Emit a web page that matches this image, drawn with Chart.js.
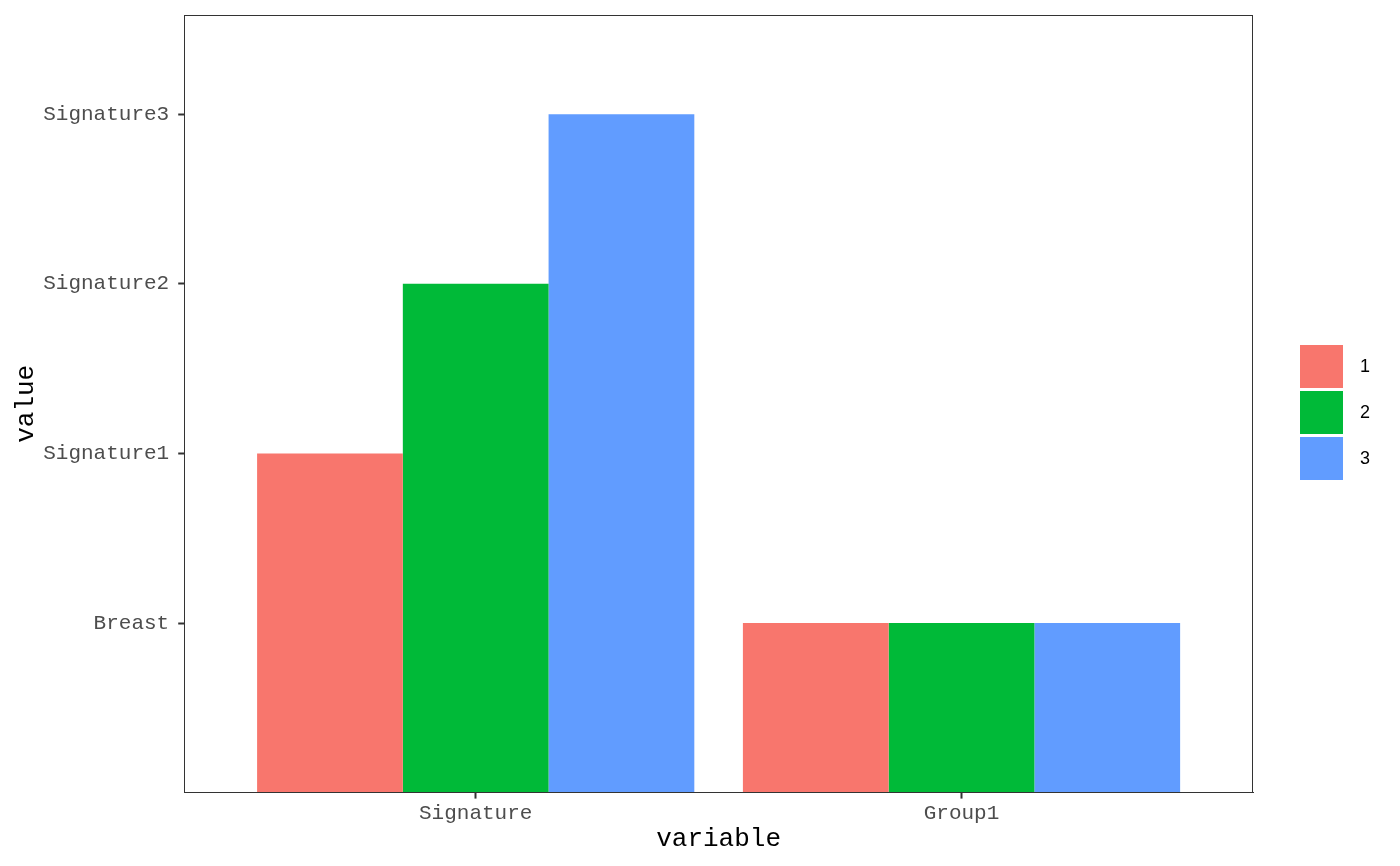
<!DOCTYPE html>
<html><head><meta charset="utf-8">
<script src="https://cdn.jsdelivr.net/npm/chart.js@4"></script>
<style>html,body{margin:0;padding:0;background:#fff}#wrap{width:1400px;height:866px;position:relative}</style>
</head><body><div id="wrap"><canvas id="c"></canvas></div>
<script>
const categories = ['Signature', 'Group1'];
const yLevels = ['Breast', 'Signature1', 'Signature2', 'Signature3'];
const seriesNames = ['1', '2', '3'];
const series1 = ['Signature1', 'Breast'];
const series2 = ['Signature2', 'Breast'];
const series3 = ['Signature3', 'Breast'];
const seriesColors = ['#F8766D', '#00BA38', '#619CFF'];

const allSeries = [series1, series2, series3];
const datasets = allSeries.map((s, i) => ({
  label: seriesNames[i],
  data: s.map((lvl, j) => ({ x: j + 1, y: yLevels.indexOf(lvl) + 1 })),
  backgroundColor: seriesColors[i],
  borderWidth: 0,
  categoryPercentage: 0.9,
  barPercentage: 1.0
}));

const panelBorder = {
  id: 'panelBorder',
  afterDraw(chart) {
    const a = chart.chartArea, ctx = chart.ctx;
    ctx.save();
    ctx.strokeStyle = '#333333';
    ctx.lineWidth = 1;
    ctx.strokeRect(Math.round(a.left) + 0.5, Math.round(a.top) + 0.5, Math.round(a.right - a.left) - 1, Math.round(a.bottom - a.top) - 1);
    ctx.restore();
  }
};

// ggplot-style legend to the right of the panel, built from the datasets
const sideLegend = {
  id: 'sideLegend',
  afterDraw(chart) {
    const a = chart.chartArea, ctx = chart.ctx;
    const ds = chart.data.datasets;
    const key = 43, gap = 3, step = key + gap;
    const total = ds.length * key + (ds.length - 1) * gap;
    const x0 = a.right + 47;
    let y0 = Math.round((a.top + a.bottom) / 2 - total / 2 + 9);
    ctx.save();
    ctx.font = "18px 'Liberation Sans', Arial, sans-serif";
    ctx.textBaseline = 'middle';
    ctx.textAlign = 'left';
    ds.forEach((d, i) => {
      const y = y0 + i * step;
      ctx.fillStyle = d.backgroundColor;
      ctx.fillRect(x0, y, key, key);
      ctx.fillStyle = '#000000';
      ctx.fillText(d.label, x0 + key + 17, y + key / 2 + 1);
    });
    ctx.restore();
  }
};

const mono = "'Liberation Mono', 'Courier New', monospace";
new Chart(document.getElementById('c'), {
  type: 'bar',
  data: { datasets },
  plugins: [panelBorder, sideLegend],
  options: {
    responsive: true,
    maintainAspectRatio: false,
    animation: false,
    layout: { padding: { left: 3, right: 147, top: 15, bottom: 11 } },
    plugins: {
      tooltip: { enabled: false },
      legend: { display: false }
    },
    scales: {
      x: {
        type: 'linear', min: 0.4, max: 2.6, offset: false,
        afterBuildTicks: s => { s.ticks = categories.map((c, i) => ({ value: i + 1 })); },
        afterFit: s => { s.paddingLeft = 0; s.paddingRight = 0; },
        ticks: { callback: v => categories[v - 1], color: '#4D4D4D', font: { family: mono, size: 21 }, padding: 2, maxRotation: 0, autoSkip: false },
        grid: { drawOnChartArea: false, offset: false, tickLength: 6, color: '#333333', tickWidth: 2 },
        border: { color: '#333333' },
        title: { display: true, text: 'variable', color: '#000', font: { family: mono, size: 26 }, padding: { top: -4, bottom: 0 } }
      },
      y: {
        type: 'linear', min: 0, max: 4.585,
        afterBuildTicks: s => { s.ticks = yLevels.map((c, i) => ({ value: i + 1 })); },
        afterFit: s => { s.paddingTop = 0; s.paddingBottom = 0; },
        ticks: { callback: v => yLevels[v - 1], color: '#4D4D4D', font: { family: mono, size: 21 }, padding: 9, autoSkip: false },
        grid: { drawOnChartArea: false, offset: false, tickLength: 6, color: '#333333', tickWidth: 2 },
        border: { color: '#333333' },
        title: { display: true, text: 'value', color: '#000', font: { family: mono, size: 26 }, padding: { top: 8, bottom: -8 } }
      }
    }
  }
});
</script>
</body></html>
